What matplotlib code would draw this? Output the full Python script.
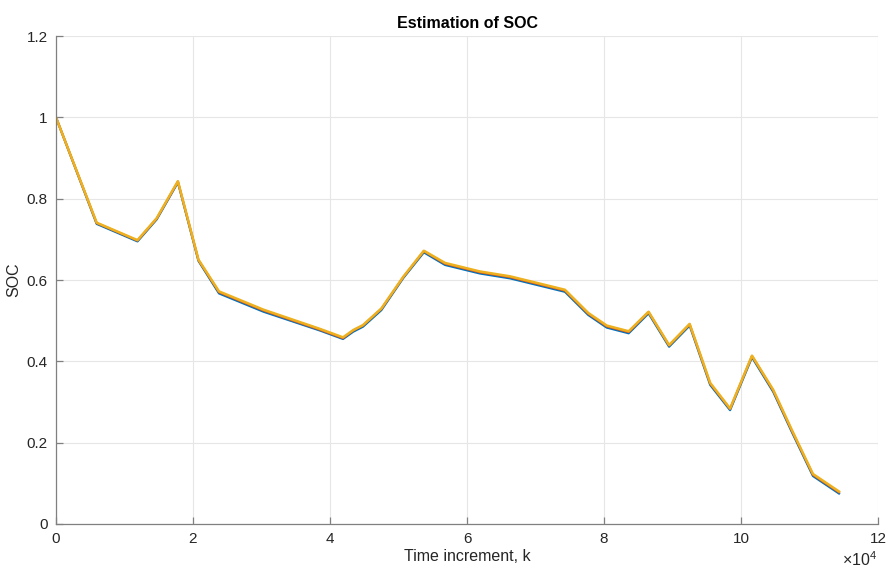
import matplotlib
matplotlib.use("Agg")
import matplotlib.pyplot as plt
import numpy as np
from matplotlib.ticker import FuncFormatter

plt.rcParams["font.family"] = ["Liberation Sans", "DejaVu Sans"]
plt.rcParams["mathtext.fontset"] = "custom"
plt.rcParams["mathtext.rm"] = "Liberation Sans"

# breakpoints of the SOC trajectory (k in samples)
k = np.array([0, 0.594, 1.19, 1.47, 1.78, 2.08, 2.38, 3.03, 3.85, 4.19, 4.34,
              4.48, 4.75, 5.07, 5.37, 5.68, 6.19, 6.63, 7.43, 7.77, 8.04, 8.36,
              8.65, 8.95, 9.25, 9.55, 9.84, 10.16, 10.47, 10.74, 11.05, 11.43]) * 1e4

soc_true = [1.0, 0.738, 0.695, 0.749, 0.840, 0.647, 0.567, 0.522, 0.476, 0.455, 0.473,
            0.485, 0.526, 0.605, 0.668, 0.637, 0.616, 0.604, 0.571, 0.514, 0.483, 0.469,
            0.518, 0.436, 0.488, 0.342, 0.280, 0.410, 0.325, 0.227, 0.118, 0.075]

soc_ekf = [1.0, 0.740, 0.697, 0.751, 0.842, 0.649, 0.570, 0.525, 0.478, 0.457, 0.476,
           0.488, 0.529, 0.607, 0.671, 0.640, 0.619, 0.607, 0.574, 0.517, 0.486, 0.472,
           0.521, 0.439, 0.491, 0.345, 0.283, 0.413, 0.328, 0.230, 0.121, 0.078]

soc_ukf = [1.0, 0.741, 0.698, 0.752, 0.843, 0.650, 0.572, 0.527, 0.480, 0.459, 0.477,
           0.489, 0.530, 0.608, 0.672, 0.642, 0.621, 0.609, 0.576, 0.519, 0.488, 0.474,
           0.522, 0.440, 0.492, 0.347, 0.284, 0.414, 0.330, 0.232, 0.123, 0.080]

xticks = np.arange(0, 13, 2) * 1e4
yticks = [0, 0.2, 0.4, 0.6, 0.8, 1.0, 1.2]

fig = plt.figure(figsize=(8.87, 5.69), dpi=100)
ax = fig.add_axes([0.0631, 0.0791, 0.9268, 0.8576])

ax.plot(k, soc_true, color=(0, 0.447, 0.741), lw=1.6)
ax.plot(k, soc_ekf, color=(0.85, 0.325, 0.098), lw=1.6)
ax.plot(k, soc_ukf, color=(0.929, 0.694, 0.125), lw=1.8)

ax.set_xlim(0, 12e4)
ax.set_ylim(0, 1.2)
ax.set_xticks(xticks)
ax.set_yticks(yticks)
ax.xaxis.set_major_formatter(FuncFormatter(lambda v, p: f"{v / 1e4:g}"))
ax.yaxis.set_major_formatter(FuncFormatter(lambda v, p: f"{v:g}"))

ax.grid(True, color="#e6e6e6", lw=0.8)
ax.set_axisbelow(True)
for s in ("top", "right"):
    ax.spines[s].set_visible(False)
for s in ("left", "bottom"):
    ax.spines[s].set_color("#808080")
    ax.spines[s].set_linewidth(0.9)
ax.tick_params(direction="in", length=5, width=0.9, color="#808080",
               labelsize=11, labelcolor="#262626", pad=6)

ax.set_xlabel("Time increment, k", fontsize=11.5, color="#262626", labelpad=2)
ax.set_ylabel("SOC", fontsize=11.5, color="#262626", labelpad=4)
ax.set_title("Estimation of SOC", fontsize=11.5, fontweight="bold", color="black", pad=6)

# exponent of the x axis, placed below the last tick label
ax.text(0.9988, -0.0855, r"$\times\mathregular{10^{4}}$", transform=ax.transAxes,
        ha="right", va="baseline", fontsize=11.5, color="#262626")

fig.savefig("out.png", dpi=100)
